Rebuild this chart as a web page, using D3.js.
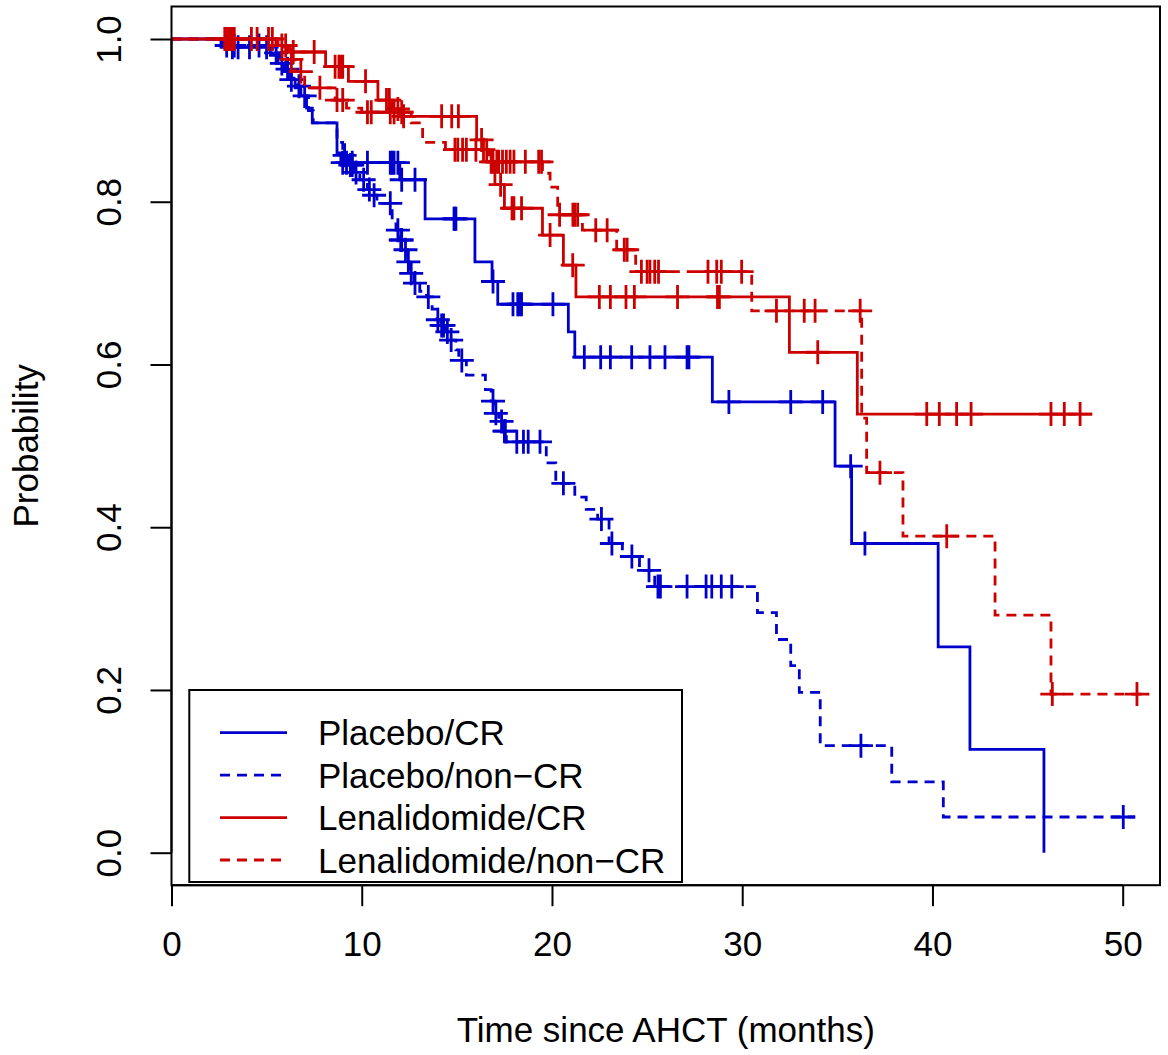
<!DOCTYPE html>
<html>
<head>
<meta charset="utf-8">
<script src="https://cdn.jsdelivr.net/npm/d3@7"></script>
<style>
  html, body { margin: 0; padding: 0; background: #fff; }
  svg { display: block; font-family: "Liberation Sans", Arial, sans-serif; }
</style>
</head>
<body>
<svg id="chart" width="1168" height="1055"></svg>
<script>
// ---------------- data ----------------
const seriesNames = ["Placebo/CR", "Placebo/non\u2212CR", "Lenalidomide/CR", "Lenalidomide/non\u2212CR"];

// Placebo / CR  (step times, survival after step)
const pcrTime = [0, 2.6, 5.2, 5.6, 5.9, 6.2, 6.5, 6.8, 7.1, 7.4, 8.7, 8.9, 12.0, 13.33, 15.95, 16.85, 17.15, 20.86, 21.2, 28.43, 34.88, 35.75, 40.3, 41.97, 45.86];
const pcrSurv = [1, 0.99, 0.98, 0.97, 0.96, 0.95, 0.94, 0.93, 0.915, 0.897, 0.86, 0.848, 0.827, 0.779, 0.726, 0.702, 0.674, 0.640, 0.609, 0.554, 0.475, 0.380, 0.253, 0.127, 0.0];
const pcrEnd = 45.86;
const pcrCensor = [3.2, 3.5, 4.1, 5.0, 5.8, 6.3, 9.0, 9.2, 9.5, 10.3, 11.5, 11.6, 11.7, 11.9, 12.1, 12.8, 14.85, 14.9, 14.95, 16.9, 17.95, 18.2, 18.3, 18.4, 20.05, 21.7, 22.56, 23.07, 24.19, 25.15, 25.94, 27.1, 27.2, 29.3, 32.55, 34.23, 35.7, 36.45];

// Placebo / non-CR
const pncTime = [0, 2.7, 5.3, 5.7, 6.0, 6.3, 6.6, 6.9, 7.2, 7.45, 8.7, 9.0, 9.3, 9.6, 9.9, 10.3, 10.6, 10.8, 11.6, 11.8, 12.0, 12.2, 12.4, 12.5, 12.75, 13.05, 13.4, 13.7, 13.95, 14.15, 14.4, 14.6, 14.95, 15.1, 15.5, 16.5, 16.8, 17.0, 17.2, 17.45, 17.6, 19.7, 20.2, 21.2, 21.8, 22.4, 23.0, 23.7, 24.6, 25.4, 30.8, 31.8, 32.55, 33.0, 34.1, 37.86, 40.57];
const pncSurv = [1, 0.992, 0.983, 0.973, 0.963, 0.952, 0.942, 0.93, 0.912, 0.897, 0.873, 0.857, 0.845, 0.836, 0.827, 0.815, 0.808, 0.798, 0.777, 0.765, 0.753, 0.741, 0.726, 0.712, 0.70, 0.69, 0.683, 0.668, 0.655, 0.648, 0.640, 0.630, 0.618, 0.605, 0.587, 0.569, 0.555, 0.540, 0.530, 0.518, 0.505, 0.479, 0.454, 0.437, 0.422, 0.410, 0.380, 0.364, 0.347, 0.327, 0.295, 0.262, 0.230, 0.197, 0.1315, 0.087, 0.0439];
const pncEnd = 50.65;
const pncCensor = [2.9, 3.3, 4.6, 5.5, 6.1, 6.7, 7.0, 9.1, 9.4, 9.5, 9.7, 10.1, 10.4, 10.65, 11.5, 11.9, 12.05, 12.1, 12.3, 12.45, 12.6, 12.8, 13.5, 14.0, 14.2, 14.3, 14.5, 14.7, 15.26, 16.9, 17.05, 17.35, 17.5, 17.55, 18.15, 18.5, 18.75, 19.37, 20.6, 22.6, 23.15, 24.2, 25.1, 25.57, 25.7, 27.1, 28.1, 28.4, 28.9, 29.45, 36.24, 50.03];

// Lenalidomide / CR
const lcrTime = [0, 5.5, 6.2, 8.1, 9.3, 10.85, 11.6, 12.0, 16.04, 16.57, 17.0, 17.5, 19.5, 20.6, 21.26, 32.48, 36.05];
const lcrSurv = [1, 0.992, 0.984, 0.966, 0.948, 0.925, 0.914, 0.905, 0.876, 0.849, 0.821, 0.792, 0.759, 0.722, 0.683, 0.615, 0.539];
const lcrEnd = 48.4;
const lcrCensor = [2.8, 3.0, 3.2, 4.2, 5.1, 5.8, 6.0, 6.4, 7.5, 8.6, 8.8, 8.9, 9.0, 10.2, 11.3, 11.45, 11.9, 12.2, 14.2, 14.73, 15.08, 16.3, 16.8, 17.3, 17.9, 18.0, 18.4, 19.9, 21.09, 22.49, 23.07, 23.89, 24.33, 26.6, 28.7, 28.8, 33.97, 39.7, 40.36, 41.27, 42.03, 46.23, 46.93, 47.76];

// Lenalidomide / non-CR
const lncTime = [0, 5.6, 6.1, 6.5, 7.0, 8.6, 9.2, 10.0, 12.6, 13.2, 14.4, 16.7, 19.5, 19.9, 20.3, 21.6, 23.4, 24.4, 30.5, 36.28, 36.54, 38.45, 43.29, 46.23];
const lncSurv = [1, 0.99, 0.975, 0.96, 0.94, 0.925, 0.915, 0.91, 0.897, 0.873, 0.864, 0.849, 0.835, 0.818, 0.784, 0.765, 0.741, 0.714, 0.666, 0.534, 0.467, 0.389, 0.292, 0.195];
const lncEnd = 51.4;
const lncCensor = [2.9, 3.05, 3.15, 3.3, 4.5, 5.3, 6.3, 6.8, 7.8, 8.7, 9.0, 10.3, 10.5, 11.5, 11.7, 12.1, 14.9, 15.05, 15.3, 15.5, 16.0, 16.4, 16.9, 17.1, 17.2, 17.4, 17.6, 17.8, 18.0, 18.6, 19.3, 19.45, 20.4, 21.1, 21.2, 21.35, 22.3, 22.9, 23.8, 23.95, 24.7, 25.0, 25.15, 25.4, 25.6, 28.2, 28.66, 28.9, 29.97, 31.8, 33.26, 33.83, 36.2, 37.24, 40.75, 46.3, 50.75];

const xTicks = [0, 10, 20, 30, 40, 50];
const yTicks = [0.0, 0.2, 0.4, 0.6, 0.8, 1.0];
const xTitle = "Time since AHCT (months)";
const yTitle = "Probability";

// ---------------- layout ----------------
const BLUE = "#0000CD", RED = "#CD0000";
const series = [
  { name: seriesNames[0], time: pcrTime, surv: pcrSurv, end: pcrEnd, censor: pcrCensor, color: BLUE, dash: null },
  { name: seriesNames[1], time: pncTime, surv: pncSurv, end: pncEnd, censor: pncCensor, color: BLUE, dash: "10,7" },
  { name: seriesNames[2], time: lcrTime, surv: lcrSurv, end: lcrEnd, censor: lcrCensor, color: RED, dash: null },
  { name: seriesNames[3], time: lncTime, surv: lncSurv, end: lncEnd, censor: lncCensor, color: RED, dash: "10,7" }
];

const plot = { left: 171.5, right: 1160, top: 6.5, bottom: 885.2 };
const x = d3.scaleLinear().domain([0, 50]).range([171.5, 1122.7]);
const y = d3.scaleLinear().domain([0, 1]).range([852.7, 39]);

const svg = d3.select("#chart");
const FS = 35;

// curves
const line = d3.line().x(d => x(d[0])).y(d => y(d[1])).curve(d3.curveStepAfter);
function survAt(s, t) {
  let v = s.surv[0];
  for (let i = 0; i < s.time.length; i++) { if (s.time[i] <= t) v = s.surv[i]; }
  return v;
}
const g = svg.append("g");
series.forEach(s => {
  const pts = s.time.map((t, i) => [t, s.surv[i]]);
  pts.push([s.end, s.surv[s.surv.length - 1]]);
  g.append("path")
    .attr("d", line(pts))
    .attr("fill", "none")
    .attr("stroke", s.color)
    .attr("stroke-width", 2.8)
    .attr("stroke-dasharray", s.dash);
  const cs = 12;
  g.append("g").selectAll("path").data(s.censor).join("path")
    .attr("d", t => {
      const cx = x(t), cy = y(survAt(s, t));
      return `M${cx - cs},${cy}H${cx + cs}M${cx},${cy - cs}V${cy + cs}`;
    })
    .attr("stroke", s.color)
    .attr("stroke-width", 2.8)
    .attr("fill", "none");
});

// frame
svg.append("rect")
  .attr("x", plot.left).attr("y", plot.top)
  .attr("width", plot.right - plot.left).attr("height", plot.bottom - plot.top)
  .attr("fill", "none").attr("stroke", "#000").attr("stroke-width", 2);

// x axis
const xAxis = svg.append("g")
  .attr("transform", `translate(0,${plot.bottom})`)
  .call(d3.axisBottom(x).tickValues(xTicks).tickSize(21).tickPadding(50).tickFormat(d3.format("d")));
xAxis.select(".domain").attr("stroke", "#000").attr("stroke-width", 2).attr("d", `M${x(0)},0H${x(50)}`);
xAxis.selectAll(".tick line").attr("stroke", "#000").attr("stroke-width", 2);
xAxis.selectAll(".tick text").attr("font-size", FS).attr("fill", "#000")
  .attr("font-family", "Liberation Sans, Arial, sans-serif").attr("dy", 0);

// y axis
const yAxis = svg.append("g")
  .attr("transform", `translate(${plot.left},0)`)
  .call(d3.axisLeft(y).tickValues(yTicks).tickSize(21).tickFormat(d3.format(".1f")));
yAxis.select(".domain").attr("stroke", "#000").attr("stroke-width", 2).attr("d", `M0,${y(0)}V${y(1)}`);
yAxis.selectAll(".tick line").attr("stroke", "#000").attr("stroke-width", 2);
yAxis.selectAll(".tick text").remove();
yAxis.selectAll(".tick").append("text")
  .attr("transform", "translate(-50.5,0) rotate(-90)")
  .attr("text-anchor", "middle")
  .attr("font-size", FS)
  .attr("fill", "#000")
  .attr("font-family", "Liberation Sans, Arial, sans-serif")
  .text(d => d3.format(".1f")(d));

// axis titles
svg.append("text")
  .attr("x", (plot.left + plot.right) / 2).attr("y", 1042)
  .attr("text-anchor", "middle").attr("font-size", FS).attr("fill", "#000")
  .text(xTitle);
svg.append("text")
  .attr("transform", `translate(38,${(plot.top + plot.bottom) / 2}) rotate(-90)`)
  .attr("text-anchor", "middle").attr("font-size", FS).attr("fill", "#000")
  .text(yTitle);

// legend
const lg = svg.append("g");
lg.append("rect").attr("x", 189.3).attr("y", 690).attr("width", 682 - 189.3).attr("height", 882 - 690)
  .attr("fill", "#fff").attr("stroke", "#000").attr("stroke-width", 2);
const rowY = d3.scaleLinear().domain([0, 3]).range([732.7, 860]);
series.forEach((s, i) => {
  lg.append("line").attr("x1", 220).attr("x2", 287).attr("y1", rowY(i)).attr("y2", rowY(i))
    .attr("stroke", s.color).attr("stroke-width", 2.8).attr("stroke-dasharray", s.dash);
  lg.append("text").attr("x", 318).attr("y", rowY(i) + 12.5)
    .attr("font-size", FS).attr("fill", "#000").text(s.name);
});
</script>
</body>
</html>
